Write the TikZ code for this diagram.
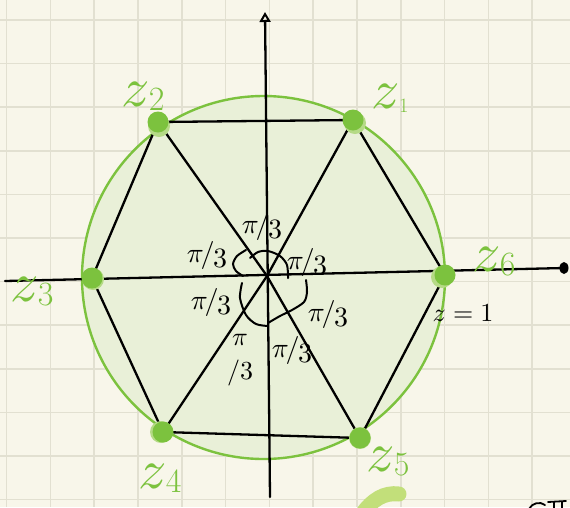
\documentclass[tikz,border=0pt]{standalone}
\usetikzlibrary{arrows.meta,calc}
\definecolor{paper}{HTML}{F8F6EA}
\definecolor{gridc}{HTML}{E2E0D1}
\definecolor{zgreen}{HTML}{7CC23E}
\definecolor{halo}{HTML}{B5DA86}
\definecolor{diskfill}{HTML}{E9F0D8}
\definecolor{blobg}{HTML}{C2DF7A}
\newcommand\zlab[1]{{\scalebox{5.6}{$z$}\hspace{-1pt}\fontsize{34}{34}\selectfont\raisebox{-4pt}{#1}}}
\newcommand\pithird{\scalebox{2.8}{$\pi\mkern-2mu/\mkern-1mu\raisebox{-2pt}{$3$}$}}
\tikzset{
  gridline/.style={draw=gridc, line width=1.6pt},
  edge/.style={draw=black, line width=2.3pt, line cap=round, line join=round},
  axisline/.style={draw=black, line width=2.3pt, line cap=round},
  arcline/.style={draw=black, line width=2pt, line cap=round},
  vdot/.style={circle, fill=zgreen, minimum size=21pt, inner sep=0pt},
  zlabel/.style={text=zgreen, inner sep=0pt},
  pilabel/.style={text=black, inner sep=0pt}
}
\begin{document}
\begin{tikzpicture}[x=1pt,y=-1pt]
\useasboundingbox (0,0) rectangle (570,507);
\fill[paper] (0,0) rectangle (570,507);
% grid
\foreach \i in {0,...,12} \draw[gridline] ({6.6+43.8*\i},0) -- ({6.6+43.8*\i},507);
\foreach \j in {0,...,11} \draw[gridline] (0,{20+43.6*\j}) -- (570,{20+43.6*\j});
% disk
\coordinate (C) at (263.5,277.5);
\fill[diskfill] (C) circle (181.5);
\draw[zgreen, line width=2.4pt] (C) circle (181.5);
% vertices
\coordinate (O) at (267,276);
\coordinate (p1) at (353,120);
\coordinate (p2) at (158,122);
\coordinate (p3) at (92,278);
\coordinate (p4) at (163,432);
\coordinate (p5) at (360,438);
\coordinate (p6) at (445,275);
% axes
\coordinate (hl) at (5,281);
\coordinate (hr) at (564,268);
\coordinate (vb) at (270,497);
\coordinate (vt) at (265,12);
\draw[axisline] (hl) -- (hr);
\fill[black] (hr) ellipse (4.5 and 6);
\draw[axisline, -{Triangle[open, length=10pt, width=11pt, line width=2pt]}] (vb) -- (vt);
% hexagon
\draw[edge] (p1) -- (p2) -- (p3) -- (p4) -- (p5) -- (p6) -- cycle;
% spokes
\draw[edge] (O) -- (p1);
\draw[edge] (O) -- (p2);
\draw[edge] (O) -- (p4);
\draw[edge] (O) -- (p5);
% angle arcs
\draw[arcline] plot[smooth] coordinates {(250,258) (258,252) (268,251) (280,256) (287,265) (288,278)};
\draw[arcline] plot[smooth] coordinates {(246,250) (237,256) (233,264) (236,271) (243,276)};
\draw[arcline] plot[smooth] coordinates {(242,283) (240,298) (246,315) (256,324) (268,326)};
\draw[arcline] plot[smooth] coordinates {(268,323) (280,316) (292,310) (304,302) (307,292) (306,280)};
% dots
\foreach \k/\dx/\dy in {1/2/3,2/1/4,3/1/1,4/-2/0,5/0/0,6/-3/2}{
  \fill[halo] ($(p\k)+(\dx,\dy)$) circle (11);
}
\node[vdot] (z1) at (p1) {};
\node[vdot] (z2) at (p2) {};
\node[vdot] (z3) at (p3) {};
\node[vdot] (z4) at (p4) {};
\node[vdot] (z5) at (p5) {};
\node[vdot] (z6) at (p6) {};
% labels
\node[zlabel] (l1) at (390,98) {\zlab{\scalebox{0.6}{1}}};
\node[zlabel] (l2) at (143,96) {\zlab{2}};
\node[zlabel] (l3) at (32,292) {\zlab{3}};
\node[zlabel] (l4) at (160,478) {\zlab{4}};
\node[zlabel] (l5) at (388,462) {\zlab{5}};
\node[zlabel] (l6) at (494,262) {\zlab{6}};
\node[pilabel] (one) at (463,313) {\scalebox{2.6}{$z=1$}};
% pi/3 labels
\node[pilabel] (a1) at (262,226) {\pithird};
\node[pilabel] (a2) at (207,255) {\pithird};
\node[pilabel] (a3) at (307,262) {\pithird};
\node[pilabel] (a4) at (211,302) {\pithird};
\node[pilabel] (a5) at (328,314) {\pithird};
\node[pilabel] (a6) at (240,356) {\scalebox{2.6}{$\begin{array}{@{}c@{}}\pi\\[1pt]/3\end{array}$}};
\node[pilabel] (a7) at (292,350) {\pithird};
% stray strokes at bottom
\draw[blobg, line width=15pt, line cap=round] (362,514) .. controls (372,500) and (384,492) .. (399,494);
\draw[black, line width=1.8pt, line cap=round] (529,509) .. controls (532,503) and (540,501) .. (545,505);
\draw[black, line width=1.8pt, line cap=round] (548,502) -- (566,501);
\draw[black, line width=1.8pt] (554,502) -- (554,510);
\draw[black, line width=1.8pt] (562,502) -- (562,510);
\end{tikzpicture}
\end{document}
